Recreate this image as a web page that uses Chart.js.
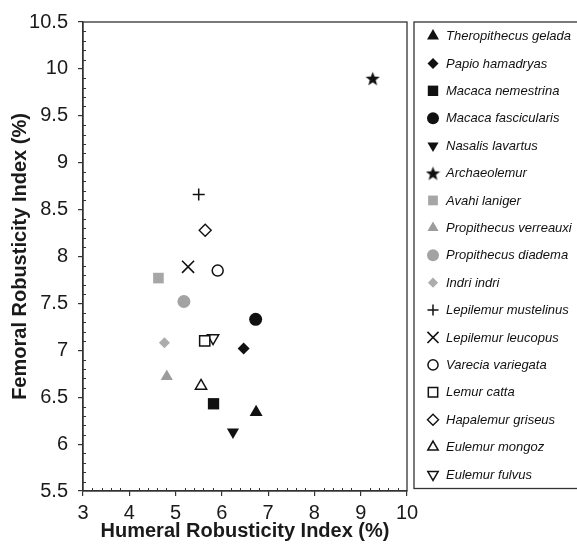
<!DOCTYPE html>
<html>
<head>
<meta charset="utf-8">
<script src="https://cdn.jsdelivr.net/npm/chart.js@4.4.0/dist/chart.umd.min.js"></script>
<style>
  html, body { margin: 0; padding: 0; background: #fff; }
  #wrap { width: 577px; height: 545px; }
</style>
</head>
<body>
<div id="wrap"><canvas id="chart"></canvas></div>
<script>
// Robusticity indices (%) per taxon
const species = [
  'Theropithecus gelada', 'Papio hamadryas', 'Macaca nemestrina', 'Macaca fascicularis',
  'Nasalis lavartus', 'Archaeolemur', 'Avahi laniger', 'Propithecus verreauxi',
  'Propithecus diadema', 'Indri indri', 'Lepilemur mustelinus', 'Lepilemur leucopus',
  'Varecia variegata', 'Lemur catta', 'Hapalemur griseus', 'Eulemur mongoz', 'Eulemur fulvus'
];
const humeral = [6.74, 6.47, 5.82, 6.73, 6.24, 9.26, 4.63, 4.81, 5.18, 4.76, 5.50, 5.27, 5.91, 5.63, 5.64, 5.55, 5.81];
const femoral = [6.34, 7.02, 6.43, 7.33, 6.13, 9.90, 7.77, 6.72, 7.52, 7.08, 8.66, 7.89, 7.85, 7.10, 8.28, 6.62, 7.13];

const xTickValues = [3, 4, 5, 6, 7, 8, 9, 10];
const yTickValues = [5.5, 6, 6.5, 7, 7.5, 8, 8.5, 9, 9.5, 10, 10.5];

const INK = '#111';
const GREY = '#a6a6a6';
const FONT = '"Liberation Sans", Arial, Helvetica, sans-serif';

function makeStar(size, color) {
  const c = document.createElement('canvas');
  c.width = c.height = size;
  const g = c.getContext('2d');
  const cx = size / 2, cy = size / 2 + size * 0.06;
  const R = size / 2, r = R * 0.42;
  g.beginPath();
  for (let i = 0; i < 10; i++) {
    const a = -Math.PI / 2 + i * Math.PI / 5;
    const d = i % 2 ? r : R;
    g.lineTo(cx + d * Math.cos(a), cy + d * Math.sin(a));
  }
  g.closePath();
  g.fillStyle = color;
  g.fill();
  return c;
}

// marker look for each taxon, same order as species
const markers = [
  { style: 'triangle', radius: 7.5, fill: INK, stroke: INK, width: 0 },
  { style: 'rectRot', radius: 6, fill: INK, stroke: INK, width: 0 },
  { style: 'rect', radius: 8, fill: INK, stroke: INK, width: 0 },
  { style: 'circle', radius: 6.5, fill: INK, stroke: INK, width: 0 },
  { style: 'triangle', radius: 7, fill: INK, stroke: INK, width: 0, rotation: 180 },
  { style: makeStar(15, INK), radius: 7, fill: INK, stroke: INK, width: 0 },
  { style: 'rect', radius: 7.5, fill: GREY, stroke: GREY, width: 0 },
  { style: 'triangle', radius: 7, fill: '#9c9c9c', stroke: GREY, width: 0 },
  { style: 'circle', radius: 6.5, fill: '#a3a3a3', stroke: GREY, width: 0 },
  { style: 'rectRot', radius: 5.5, fill: '#acacac', stroke: GREY, width: 0 },
  { style: 'cross', radius: 6, fill: INK, stroke: INK, width: 1.5 },
  { style: 'crossRot', radius: 8.5, fill: INK, stroke: INK, width: 1.6 },
  { style: 'circle', radius: 5.5, fill: '#fff', stroke: INK, width: 1.5 },
  { style: 'rect', radius: 7.2, fill: '#fff', stroke: INK, width: 1.5 },
  { style: 'rectRot', radius: 6, fill: '#fff', stroke: INK, width: 1.4 },
  { style: 'triangle', radius: 6.5, fill: '#fff', stroke: INK, width: 1.5 },
  { style: 'triangle', radius: 6.5, fill: '#fff', stroke: INK, width: 1.5, rotation: 180 }
];

const datasets = species.map((name, i) => ({
  label: name,
  data: [{ x: humeral[i], y: femoral[i] }],
  pointStyle: markers[i].style,
  pointRadius: markers[i].radius,
  pointHoverRadius: markers[i].radius,
  pointRotation: markers[i].rotation || 0,
  backgroundColor: markers[i].fill,
  borderColor: markers[i].stroke,
  borderWidth: markers[i].width,
  pointBorderWidth: markers[i].width
}));

// box around the plot plus small inner minor ticks
const frameTicks = {
  id: 'frameTicks',
  afterDatasetsDraw(chart) {
    const { ctx, chartArea: a, scales: { x, y } } = chart;
    ctx.save();
    ctx.strokeStyle = '#333';
    ctx.lineWidth = 1.3;
    ctx.strokeRect(a.left, a.top, a.right - a.left, a.bottom - a.top);
    ctx.lineWidth = 1;
    ctx.beginPath();
    for (let i = 1; i < 35; i++) {
      if (i % 5 === 0) continue;
      const px = Math.round(x.getPixelForValue(3 + i * 0.2)) + 0.5;
      ctx.moveTo(px, a.bottom);
      ctx.lineTo(px, a.bottom - 3);
    }
    for (let i = 1; i < 50; i++) {
      if (i % 5 === 0) continue;
      const py = Math.round(y.getPixelForValue(5.5 + i * 0.1)) + 0.5;
      ctx.moveTo(a.left, py);
      ctx.lineTo(a.left + 3, py);
    }
    ctx.stroke();
    ctx.restore();
  }
};

// boxed legend to the right of the plot
const boxedLegend = {
  id: 'boxedLegend',
  afterDraw(chart) {
    const { ctx, chartArea: a } = chart;
    const left = a.right + 7;
    const top = a.top;
    const bottom = a.bottom - 2.5;
    ctx.save();
    ctx.strokeStyle = '#333';
    ctx.lineWidth = 1.3;
    ctx.strokeRect(left, top, chart.width - left + 5, bottom - top);
    const sets = chart.data.datasets;
    const step = (bottom - top - 28) / (sets.length - 1);
    sets.forEach((ds, i) => {
      const cy = top + 14 + i * step;
      ctx.fillStyle = ds.backgroundColor;
      ctx.strokeStyle = ds.borderColor;
      ctx.lineWidth = ds.borderWidth;
      Chart.helpers.drawPoint(ctx, {
        pointStyle: ds.pointStyle,
        rotation: ds.pointRotation,
        radius: ds.pointRadius * 0.92,
        borderWidth: ds.borderWidth
      }, left + 19, cy);
      ctx.fillStyle = INK;
      ctx.font = 'italic 13px ' + FONT;
      ctx.textBaseline = 'middle';
      ctx.textAlign = 'left';
      ctx.fillText(ds.label, left + 32, cy + 0.5);
    });
    ctx.restore();
  }
};

new Chart(document.getElementById('chart'), {
  type: 'scatter',
  data: { datasets },
  plugins: [frameTicks, boxedLegend],
  options: {
    responsive: true,
    maintainAspectRatio: false,
    animation: false,
    layout: { padding: { top: 19, right: 170, left: 0, bottom: 0 } },
    plugins: { legend: { display: false }, tooltip: { enabled: false } },
    scales: {
      x: {
        type: 'linear',
        min: 3, max: 10,
        afterBuildTicks: s => { s.ticks = xTickValues.map(v => ({ value: v })); },
        afterFit: s => { s.height = 54; },
        ticks: { color: '#1a1a1a', font: { family: FONT, size: 20 }, padding: 5, callback: v => String(v) },
        grid: { display: true, drawOnChartArea: false, drawTicks: true, tickLength: 5, color: '#333', lineWidth: 1.2 },
        border: { display: true, color: '#333', width: 1.3 },
        title: {
          display: true,
          text: 'Humeral Robusticity Index (%)',
          color: '#1a1a1a',
          font: { family: FONT, size: 20, weight: 'bold' },
          padding: { top: 0, bottom: 2 }
        }
      },
      y: {
        type: 'linear',
        min: 5.5, max: 10.5,
        afterBuildTicks: s => { s.ticks = yTickValues.map(v => ({ value: v })); },
        afterFit: s => { s.width = 83; },
        ticks: { color: '#1a1a1a', font: { family: FONT, size: 20 }, padding: 10, callback: v => String(v) },
        grid: { display: true, drawOnChartArea: false, drawTicks: true, tickLength: 5, color: '#333', lineWidth: 1.2 },
        border: { display: true, color: '#333', width: 1.3 },
        title: {
          display: true,
          text: 'Femoral Robusticity Index (%)',
          color: '#1a1a1a',
          font: { family: FONT, size: 20, weight: 'bold' },
          padding: { top: 8, bottom: 0 }
        }
      }
    }
  }
});
</script>
</body>
</html>
